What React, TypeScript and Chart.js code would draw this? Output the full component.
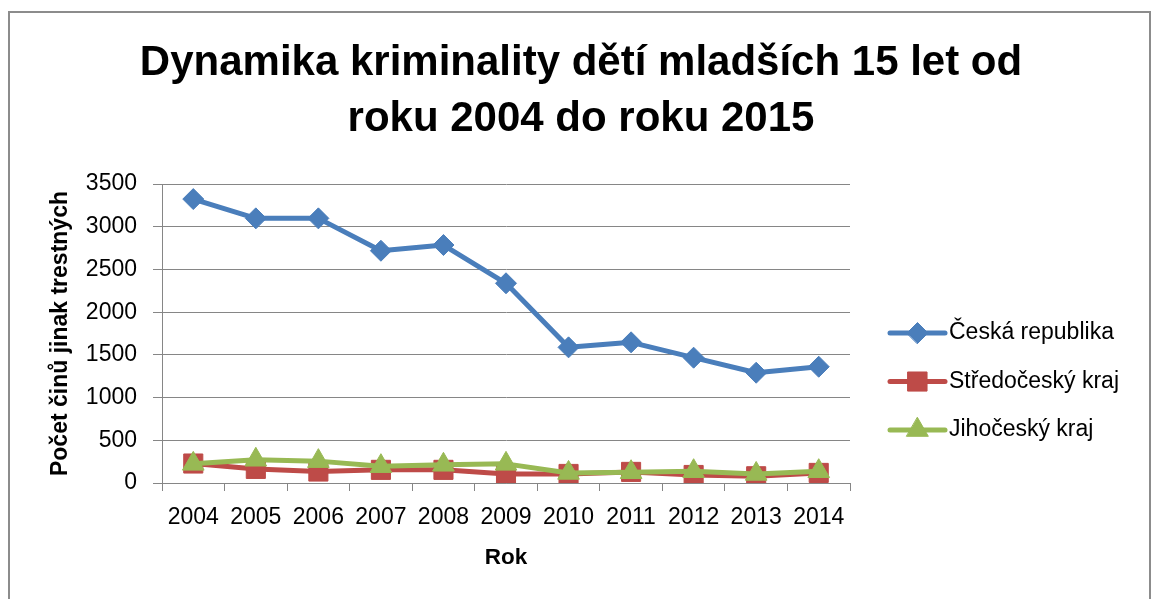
import React, { useEffect, useRef } from 'react';
import { Chart, registerables } from 'chart.js';
import { drawPoint } from 'chart.js/helpers';

Chart.register(...registerables);

const years = ['2004', '2005', '2006', '2007', '2008', '2009', '2010', '2011', '2012', '2013', '2014'];
const ceskaRepublika = [3324, 3098, 3098, 2719, 2786, 2338, 1588, 1647, 1467, 1291, 1361];
const stredocesky = [228, 165, 134, 154, 154, 106, 106, 130, 94, 79, 118];
const jihocesky = [224, 272, 256, 197, 213, 224, 118, 126, 138, 106, 138];
const seriesNames = ['Česká republika', 'Středočeský kraj', 'Jihočeský kraj'];
const titleLines = ['Dynamika kriminality dětí mladších 15 let od', 'roku 2004 do roku 2015'];
const yAxisTitle = 'Počet činů jinak trestných';
const xAxisTitle = 'Rok';
const yMin = 0;
const yMax = 3500;
const yStep = 500;

const FONT = '"Liberation Sans", Arial, sans-serif';

const excelLegend = {
  id: 'excelLegend',
  afterDraw(chart: any) {
    const { ctx, chartArea } = chart;
    const x0 = chartArea.right + 40;
    const lineLen = 55;
    const firstRow = chartArea.top + 149;
    const rowStep = 48.5;
    chart.data.datasets.forEach((ds: any, i: number) => {
      const y = firstRow + i * rowStep;
      ctx.save();
      ctx.strokeStyle = ds.borderColor;
      ctx.lineWidth = 5;
      ctx.lineCap = 'round';
      ctx.beginPath();
      ctx.moveTo(x0, y);
      ctx.lineTo(x0 + lineLen, y);
      ctx.stroke();
      ctx.fillStyle = ds.pointBackgroundColor;
      ctx.strokeStyle = ds.pointBorderColor;
      ctx.lineWidth = 1;
      drawPoint(ctx, { pointStyle: ds.pointStyle, radius: ds.pointRadius, rotation: 0, borderWidth: 1 }, x0 + lineLen / 2, y);
      ctx.fillStyle = '#000';
      ctx.font = '23px ' + FONT;
      ctx.textAlign = 'left';
      ctx.textBaseline = 'middle';
      ctx.fillText(ds.label, x0 + lineLen + 4, y);
      ctx.restore();
    });
  },
};

export default function App() {
  const ref = useRef<HTMLCanvasElement>(null);

  useEffect(() => {
    document.body.style.margin = '0';
    const canvas = ref.current;
    if (!canvas) return;
    const chart = new Chart(canvas, {
      type: 'line',
      data: {
        labels: years,
        datasets: [
          {
            label: seriesNames[0],
            data: ceskaRepublika,
            borderColor: '#4A7EBB',
            backgroundColor: '#4A7EBB',
            pointBackgroundColor: '#4A7EBB',
            pointBorderColor: '#4A7EBB',
            borderWidth: 5,
            pointStyle: 'rectRot',
            pointRadius: 10.5,
            pointBorderWidth: 1,
            borderJoinStyle: 'round',
            borderCapStyle: 'round',
            tension: 0,
            fill: false,
            order: 0,
          },
          {
            label: seriesNames[1],
            data: stredocesky,
            borderColor: '#BE4B48',
            backgroundColor: '#BE4B48',
            pointBackgroundColor: '#BE4B48',
            pointBorderColor: '#BE4B48',
            borderWidth: 5,
            pointStyle: 'rect',
            pointRadius: 13.5,
            pointBorderWidth: 1,
            borderJoinStyle: 'round',
            borderCapStyle: 'round',
            tension: 0,
            fill: false,
            order: 2,
          },
          {
            label: seriesNames[2],
            data: jihocesky,
            borderColor: '#98B954',
            backgroundColor: '#98B954',
            pointBackgroundColor: '#98B954',
            pointBorderColor: '#98B954',
            borderWidth: 5,
            pointStyle: 'triangle',
            pointRadius: 12.5,
            pointBorderWidth: 1,
            borderJoinStyle: 'round',
            borderCapStyle: 'round',
            tension: 0,
            fill: false,
            order: 1,
          },
        ] as any,
      },
      options: {
        animation: false,
        responsive: false,
        maintainAspectRatio: false,
        devicePixelRatio: 1,
        layout: { padding: { left: 8, right: 0, top: 0, bottom: 0 } },
        plugins: {
          legend: { display: false },
          tooltip: { enabled: false },
          title: {
            display: true,
            text: titleLines,
            color: '#000',
            font: { family: FONT, size: 42, weight: 'bold', lineHeight: 1.348 },
            padding: { top: 34.9, bottom: 35.9 },
          },
        },
        scales: {
          x: {
            type: 'category',
            offset: true,
            grid: {
              display: true,
              drawOnChartArea: false,
              drawTicks: true,
              tickLength: 8,
              color: '#868686',
              offset: true,
            },
            border: { display: true, color: '#868686', width: 1 },
            ticks: {
              color: '#000',
              font: { family: FONT, size: 23 },
              padding: 13,
              maxRotation: 0,
              autoSkip: false,
            },
            title: {
              display: true,
              text: xAxisTitle,
              color: '#000',
              font: { family: FONT, size: 22.5, weight: 'bold' },
              padding: { top: 0, bottom: 27.3 },
            },
            afterFit: (s: any) => {
              s.height = 116;
            },
          },
          y: {
            type: 'linear',
            position: 'left',
            min: yMin,
            max: yMax,
            ticks: {
              stepSize: yStep,
              color: '#000',
              font: { family: FONT, size: 23 },
              padding: 16,
              callback: (v: any) => String(v),
            },
            grid: { color: '#868686', tickLength: 9 },
            border: { display: true, color: '#868686', width: 1 },
            title: {
              display: true,
              text: yAxisTitle,
              color: '#000',
              font: { family: FONT, size: 23, weight: 'bold' },
              padding: { top: 38.5, bottom: 0 },
            },
            afterFit: (s: any) => {
              s.width = 154;
            },
          },
          legendSpace: {
            type: 'linear',
            position: 'right',
            display: true,
            grid: { display: false },
            border: { display: false },
            ticks: { display: false },
            afterFit: (s: any) => {
              s.width = 304;
            },
          },
        },
      } as any,
      plugins: [excelLegend],
    });
    return () => chart.destroy();
  }, []);

  return (
    <div style={{ position: 'relative', width: 1154, height: 599, overflow: 'hidden', background: '#fff' }}>
      <canvas ref={ref} width={1154} height={599} style={{ position: 'absolute', left: 0, top: 0, width: 1154, height: 599 }} />
      <div
        style={{
          position: 'absolute',
          left: 8,
          top: 11,
          width: 1143,
          height: 640,
          border: '2px solid #8c8c8c',
          boxSizing: 'border-box',
          pointerEvents: 'none',
        }}
      />
    </div>
  );
}
